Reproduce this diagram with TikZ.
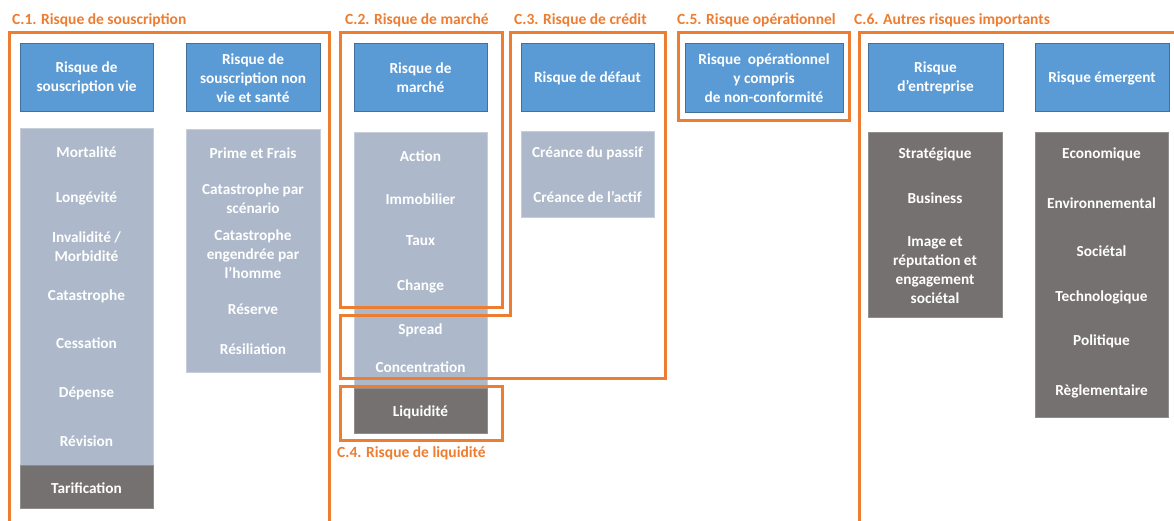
\documentclass[tikz,border=0pt]{standalone}
\usepackage{fontspec}
\setmainfont{Carlito}
\usetikzlibrary{fit}
\definecolor{orng}{HTML}{ED7D31}
\definecolor{bluebox}{HTML}{5B9BD5}
\definecolor{blueedge}{HTML}{41719C}
\definecolor{listblue}{HTML}{ADB9CA}
\definecolor{darkbox}{HTML}{767171}
\begin{document}
\begin{tikzpicture}[x=1pt,y=-1pt,
  head/.style={fill=bluebox, draw=blueedge, line width=0.8pt, inner sep=0pt, outer sep=0pt},
  lst/.style={fill=listblue, draw=listblue!70!white, line width=0.8pt, inner sep=0pt, outer sep=0pt},
  dk/.style={fill=darkbox, draw=darkbox!80!white, line width=0.8pt, inner sep=0pt, outer sep=0pt},
  txt/.style={text=white, align=center, inner sep=0pt, font=\bfseries\fontsize{15.3}{19}\selectfont},
  frm/.style={draw=orng, line width=3pt, inner sep=0pt, outer sep=0pt},
  ttl/.style={text=orng, anchor=west, inner sep=0pt, font=\bfseries\fontsize{15.5}{18}\selectfont}]
\useasboundingbox (0,0) rectangle (1174,521);
\clip (0,0) rectangle (1174,521);
\fill[white] (0,0) rectangle (1174,521);

% ---------- C.1 ----------
\node[head, fit={(20,43)(153,111)}] (h11) {};
\node[txt] (th11) at (86.5,77.5) {Risque de\\souscription vie};
\node[head, fit={(186,43)(320,111)}] (h12) {};
\node[txt] (th12) at (253,78) {Risque de\\souscription non\\vie et santé};
\node[lst, fit={(20,128)(153,465)}] (l11) {};
\node[dk, fit={(20,465)(153,508)}] (d11) {};
\node[txt] (t111) at (86.5,152) {Mortalité};
\node[txt] (t112) at (86.5,198) {Longévité};
\node[txt] (t113) at (86.5,246.5) {Invalidité /\\Morbidité};
\node[txt] (t114) at (86.5,296) {Catastrophe};
\node[txt] (t115) at (86.5,343) {Cessation};
\node[txt] (t116) at (86.5,393) {Dépense};
\node[txt] (t117) at (86.5,441) {Révision};
\node[txt] (t118) at (86.5,488) {Tarification};
\node[lst, fit={(186,129)(320,372)}] (l12) {};
\node[txt] (t121) at (253,153) {Prime et Frais};
\node[txt] (t122) at (253,199) {Catastrophe par\\scénario};
\node[txt] (t123) at (253,254.5) {Catastrophe\\engendrée par\\l’homme};
\node[txt] (t124) at (253,309) {Réserve};
\node[txt] (t125) at (253,349) {Résiliation};

% ---------- C.2 / C.4 ----------
\node[head, fit={(354,43)(487,111)}] (h2) {};
\node[txt] (th2) at (420.5,77.5) {Risque de\\marché};
\node[lst, fit={(354,132)(487,388)}] (l2) {};
\node[dk, fit={(354,388)(487,433)}] (d2) {};
\node[txt] (t21) at (420.5,156) {Action};
\node[txt] (t22) at (420.5,199) {Immobilier};
\node[txt] (t23) at (420.5,241) {Taux};
\node[txt] (t24) at (420.5,286) {Change};
\node[txt] (t25) at (420.5,330) {Spread};
\node[txt] (t26) at (420.5,367) {Concentration};
\node[txt] (t27) at (420.5,412) {Liquidité};

% ---------- C.3 ----------
\node[head, fit={(521,43)(654,111)}] (h3) {};
\node[txt] (th3) at (587.5,78) {Risque de défaut};
\node[lst, fit={(521,131)(654,217)}] (l3) {};
\node[txt] (t31) at (587.5,153) {Créance du passif};
\node[txt] (t32) at (587.5,197) {Créance de l’actif};

% ---------- C.5 ----------
\node[head, fit={(685,43)(843,112)}] (h5) {};
\node[txt] (th5) at (764,78) {Risque\ \ opérationnel\\y compris\\de non-conformité};

% ---------- C.6 ----------
\node[head, fit={(868,43)(1003,111)}] (h61) {};
\node[txt] (th61) at (935.5,77.5) {Risque\\d’entreprise};
\node[head, fit={(1035,43)(1169,111)}] (h62) {};
\node[txt] (th62) at (1102,78) {Risque émergent};
\node[dk, fit={(868,132)(1002,317)}] (d61) {};
\node[txt] (t611) at (935,154) {Stratégique};
\node[txt] (t612) at (935,198) {Business};
\node[txt] (t613) at (935,270) {Image et\\réputation et\\engagement\\sociétal};
\node[dk, fit={(1035,132)(1168,417)}] (d62) {};
\node[txt] (t621) at (1101.5,154) {Economique};
\node[txt] (t622) at (1101.5,203) {Environnemental};
\node[txt] (t623) at (1101.5,251) {Sociétal};
\node[txt] (t624) at (1101.5,297) {Technologique};
\node[txt] (t625) at (1101.5,341) {Politique};
\node[txt] (t626) at (1101.5,391) {Règlementaire};

% ---------- frames ----------
\node[frm, fit={(9,33)(329,540)}] (f1) {};
\node[frm, fit={(340,33)(502,307)}] (f2) {};
\draw[draw=orng, line width=3pt] (510,33) -- (510,315) -- (340,315) -- (340,378) -- (665,378) -- (665,33) -- cycle;
\node[frm, fit={(340,386)(502,440)}] (f4) {};
\node[frm, fit={(678,33)(849,121)}] (f5) {};
\node[frm, fit={(859,33)(1190,540)}] (f6) {};

% ---------- titles ----------
\node[ttl] (c1) at (12,20) {C.1. Risque de souscription};
\node[ttl] (c2) at (345,20) {C.2. Risque de marché};
\node[ttl] (c3) at (514,20) {C.3. Risque de crédit};
\node[ttl] (c4) at (337,453) {C.4. Risque de liquidité};
\node[ttl] (c5) at (677,20) {C.5. Risque opérationnel};
\node[ttl] (c6) at (854,20) {C.6. Autres risques importants};
\end{tikzpicture}
\end{document}
